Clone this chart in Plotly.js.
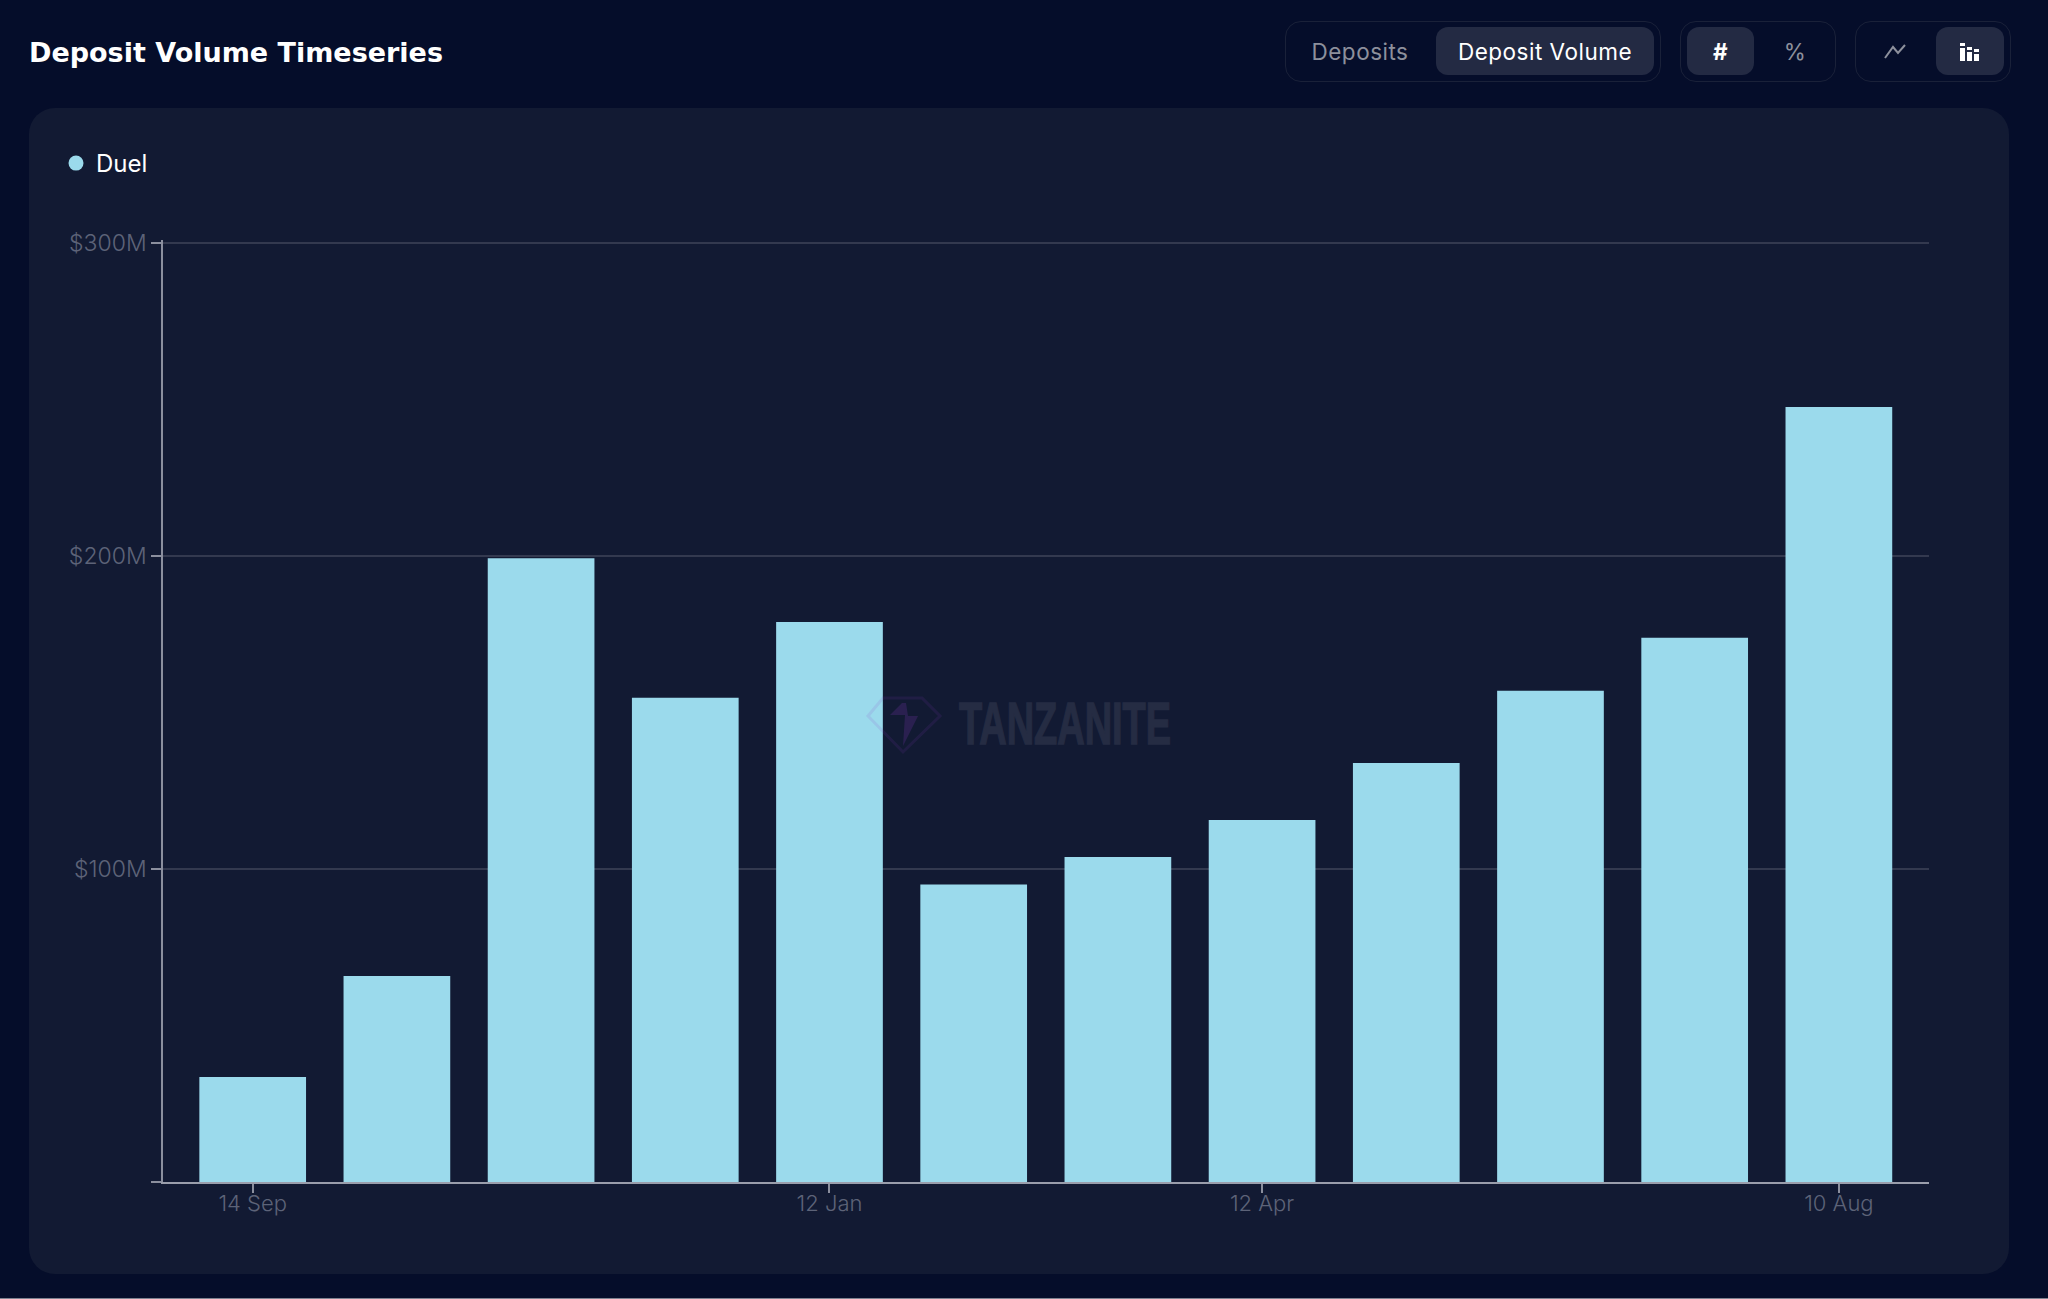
<!DOCTYPE html>
<html>
<head>
<meta charset="utf-8">
<script src="https://cdn.plot.ly/plotly-3.0.1.min.js"></script>
<style>
  html, body {margin:0; padding:0; width:2048px; height:1299px; overflow:hidden; background:#050d2a;}
  .panel {position:absolute; left:29px; top:108px; width:1980px; height:1166px; background:#121a33; border-radius:26px;}
  #chart {position:absolute; left:0; top:0; width:2048px; height:1299px;}
  .group {position:absolute; top:21px; height:59px; border:1px solid #1a2139; border-radius:16px; box-sizing:content-box;}
  .btn {position:absolute; top:27px; height:48px; line-height:50px; text-align:center; border-radius:12px;
        font-family:Inter, sans-serif; font-size:22.5px; color:#8d909c; letter-spacing:.5px;}
  .btn.on {background:#232a43; color:#fff;}
  .mark {position:absolute; left:0; top:0; pointer-events:none;}
  .wm {position:absolute; left:959px; top:694px; width:212px; height:60px; line-height:60px; pointer-events:none;
       font-family:"Liberation Sans Narrow", "Liberation Sans", sans-serif; font-weight:700; font-size:59px;
       color:#252c43; -webkit-text-stroke:1.5px #252c43; white-space:nowrap; transform-origin:left center;}
  .bottom {position:absolute; left:0; top:1298px; width:2048px; height:1px; background:#7e8290;}
</style>
</head>
<body>
<div class="panel"></div>
<div id="chart"></div>

<div class="group" style="left:1285px; width:374px;"></div>
<div class="btn" style="left:1300px; width:120px;">Deposits</div>
<div class="btn on" style="left:1436px; width:218px;">Deposit Volume</div>

<div class="group" style="left:1680px; width:154px;"></div>
<div class="btn on" style="left:1687px; width:67px; font-weight:700;">#</div>
<div class="btn" style="left:1762px; width:66px;">%</div>

<div class="group" style="left:1855px; width:154px;"></div>
<div class="btn" style="left:1862px; width:67px;"></div>
<div class="btn on" style="left:1936px; width:68px;"></div>

<svg class="mark" width="2048" height="1299">
  <polyline points="1885,58 1893,47 1898,53 1905,45" fill="none" stroke="#8d909c" stroke-width="2"/>
  <g fill="#fff">
    <rect x="1960" y="43" width="5" height="3"/><rect x="1960" y="48" width="5" height="13"/>
    <rect x="1967" y="47" width="5" height="3"/><rect x="1967" y="52" width="5" height="9"/>
    <rect x="1974" y="49" width="5" height="3"/><rect x="1974" y="54" width="5" height="7"/>
  </g>
  <!-- watermark logo -->
  <path d="M883,698 L922,698 L940,716 L903,752 L868,716 Z" fill="none" stroke="rgba(140,60,200,.12)" stroke-width="3"/>
  <path d="M902,703 L890,715 L905,715 L903,746 L918,716 L908,716 L906,703 Z" fill="rgba(140,60,200,.2)"/>
</svg>
<div class="wm" id="wm">TANZANITE</div>
<div class="bottom"></div>

<script>
// 30 day buckets
var periods = ["14 Sep","14 Oct","13 Nov","13 Dec","12 Jan","11 Feb","13 Mar","12 Apr","12 May","11 Jun","11 Jul","10 Aug"];
var depositVolume = [33.5, 65.8, 199.2, 154.6, 178.8, 95, 103.8, 115.6, 133.8, 156.9, 173.8, 247.5];
var shownPeriods = ["14 Sep","12 Jan","12 Apr","10 Aug"];
var volumeTicks = [0, 100, 200, 300];
var volumeLabels = ["", "$100M", "$200M", "$300M"];

var xTickFont = {family: "Inter, sans-serif", size: 22, color: "#5d6378", weight: 300};
var yTickFont = {family: "Inter, sans-serif", size: 23, color: "#5d6378", weight: 300};

var bars = {
  type: "bar",
  x: periods,
  y: depositVolume,
  marker: {color: "#9bdaec", line: {width: 0}},
  showlegend: false,
  hovertemplate: "%{x}: $%{y}M<extra>Duel</extra>"
};

// bars have square legend keys, the original has a dot
var legendDot = {
  type: "scatter",
  mode: "markers",
  x: [null],
  y: [null],
  name: "Duel",
  marker: {color: "#9bdaec", size: 15, symbol: "circle"}
};

var layout = {
  width: 2048,
  height: 1299,
  margin: {l: 163, r: 119, t: 240, b: 117, pad: 0},
  paper_bgcolor: "rgba(0,0,0,0)",
  plot_bgcolor: "rgba(0,0,0,0)",
  bargap: 0.26,
  title: {
    text: "Deposit Volume Timeseries",
    x: 29 / 2048, xanchor: "left",
    y: 1 - 53 / 1299, yanchor: "middle",
    font: {family: "DejaVu Sans", size: 27, color: "#ffffff", weight: 700}
  },
  legend: {
    x: (56 - 163) / 1766, xanchor: "left",
    y: 1 + (240 - 141) / 942, yanchor: "top",
    itemwidth: 30,
    bgcolor: "rgba(0,0,0,0)",
    font: {family: "Inter, sans-serif", size: 24, color: "#ffffff"}
  },
  showlegend: true,
  xaxis: {
    type: "category",
    categoryorder: "array",
    categoryarray: periods,
    range: [-0.622, 11.625],
    tickmode: "array",
    tickvals: shownPeriods,
    ticktext: shownPeriods,
    ticks: "outside",
    ticklen: 9,
    tickwidth: 1.5,
    tickcolor: "#8b8f9e",
    ticklabelstandoff: -8,
    showline: true,
    linecolor: "#9a9eac",
    linewidth: 1.5,
    showgrid: false,
    zeroline: false,
    tickfont: xTickFont,
    tickangle: 0
  },
  yaxis: {
    range: [0, 300.8],
    tickmode: "array",
    tickvals: volumeTicks,
    ticktext: volumeLabels,
    ticks: "outside",
    ticklen: 10,
    tickwidth: 1.5,
    tickcolor: "#8b8f9e",
    showline: true,
    linecolor: "#8b8f9e",
    linewidth: 1.5,
    showgrid: true,
    gridcolor: "#33394f",
    gridwidth: 1.5,
    zeroline: false,
    tickfont: yTickFont
  }
};

Plotly.newPlot("chart", [bars, legendDot], layout, {displayModeBar: false});

// squeeze the watermark text to the logo width
var wm = document.getElementById("wm");
var r = document.createRange();
r.selectNodeContents(wm);
wm.style.transform = "scaleX(" + (212 / r.getBoundingClientRect().width) + ")";
</script>
</body>
</html>
